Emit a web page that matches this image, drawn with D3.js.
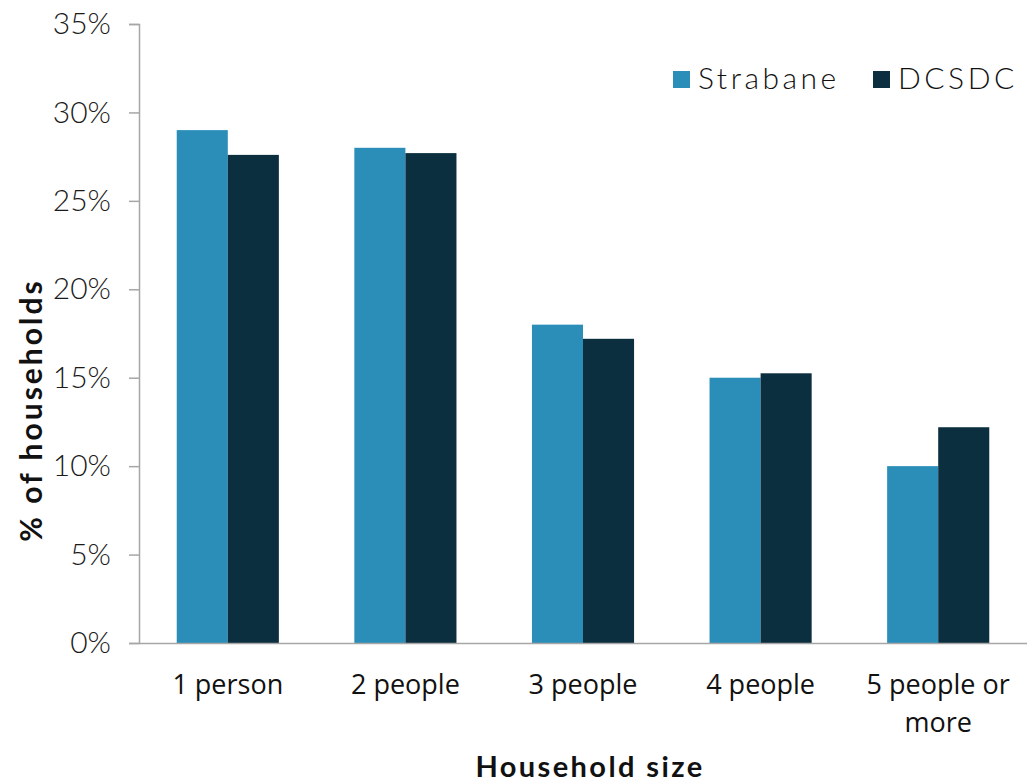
<!DOCTYPE html>
<html>
<head>
<meta charset="utf-8">
<script src="https://cdnjs.cloudflare.com/ajax/libs/d3/7.8.5/d3.min.js"></script>
<style>
    body { margin: 0; background: #fff; }
    svg { display: block; }
</style>
</head>
<body>
<div class="chart"></div>
<script>
var categories = ["1 person", "2 people", "3 people", "4 people", "5 people or more"];
var seriesNames = ["Strabane", "DCSDC"];
var strabane = [29.0, 28.0, 18.0, 15.0, 10.0];
var dcsdc = [27.6, 27.7, 17.2, 15.25, 12.2];
var yTicks = [0, 5, 10, 15, 20, 25, 30, 35];
var colors = ["#2a8eb8", "#0b2f3f"];

// ==================================

var w = 1027;
var h = 784;
var margin = { left: 139, right: 0, top: 24, bottom: 141 };
var geo = "'Lato', 'Open Sans', sans-serif";
var body = "'Open Sans', 'Noto Sans', sans-serif";

var svg = d3.select(".chart")
    .append("svg")
    .attr("width", w)
    .attr("height", h);

var x = d3.scaleBand()
    .domain(categories)
    .range([margin.left, w - margin.right])
    .paddingInner(0.425)
    .paddingOuter(0.2125);

var x1 = d3.scaleBand()
    .domain(seriesNames)
    .range([0, x.bandwidth()]);

var y = d3.scaleLinear()
    .domain([0, 35])
    .range([h - margin.bottom, margin.top]);

var rows = categories.map(function(c, i) {
    return { cat: c, values: [strabane[i], dcsdc[i]] };
});

// bars
var groups = svg.selectAll("g.grp")
    .data(rows)
    .enter()
    .append("g")
    .attr("class", "grp")
    .attr("transform", function(d) { return "translate(" + x(d.cat) + ",0)"; });

groups.selectAll("rect")
    .data(function(d) {
        return d.values.map(function(v, k) { return { name: seriesNames[k], value: v, k: k }; });
    })
    .enter()
    .append("rect")
    .attr("x", function(d) { return x1(d.name); })
    .attr("y", function(d) { return y(d.value); })
    .attr("width", x1.bandwidth())
    .attr("height", function(d) { return y(0) - y(d.value); })
    .attr("fill", function(d) { return colors[d.k]; });

// y axis
var yAxis = svg.append("g")
    .attr("transform", "translate(" + margin.left + ",0)")
    .call(d3.axisLeft(y).tickValues(yTicks).tickSize(10).tickPadding(18)
        .tickFormat(function(d) { return d + "%"; }));
yAxis.select(".domain").attr("stroke", "#a6a6a6").attr("stroke-width", 1.5);
yAxis.selectAll(".tick line").attr("stroke", "#a6a6a6").attr("stroke-width", 1.5);
yAxis.selectAll(".tick text")
    .attr("fill", "#1a1a1a")
    .style("font-family", geo)
    .style("font-weight", 300)
    .style("font-size", "30px");

// x axis
var xAxis = svg.append("g")
    .attr("transform", "translate(0," + y(0) + ")")
    .call(d3.axisBottom(x).tickSize(0).tickPadding(32));
xAxis.select(".domain").attr("stroke", "#a6a6a6").attr("stroke-width", 1.5);
xAxis.selectAll(".tick text")
    .attr("fill", "#111")
    .style("font-family", body)
    .style("font-size", "27px")
    .each(function(d) {
        if (d === "5 people or more") {
            var t = d3.select(this);
            t.text(null);
            t.append("tspan").attr("x", 0).attr("dy", "0.71em").text("5 people or");
            t.append("tspan").attr("x", 0).attr("dy", "1.4em").text("more");
            t.attr("dy", null);
        }
    });

// axis titles
svg.append("text")
    .attr("x", 590)
    .attr("y", 777)
    .attr("text-anchor", "middle")
    .style("font-family", geo)
    .style("font-weight", "bold")
    .style("font-size", "29px")
    .style("letter-spacing", "2.4px")
    .attr("fill", "#111")
    .text("Household size");

svg.append("text")
    .attr("transform", "translate(42,410) rotate(-90)")
    .attr("text-anchor", "middle")
    .style("font-family", geo)
    .style("font-weight", "bold")
    .style("font-size", "30px")
    .style("letter-spacing", "3px")
    .attr("fill", "#111")
    .text("% of households");

// legend
var legendX = [673, 873];
var legend = svg.selectAll("g.leg")
    .data(seriesNames)
    .enter()
    .append("g")
    .attr("class", "leg")
    .attr("transform", function(d, i) { return "translate(" + legendX[i] + ",71)"; });

legend.append("rect")
    .attr("width", 17)
    .attr("height", 17)
    .attr("fill", function(d, i) { return colors[i]; });

legend.append("text")
    .attr("x", 25)
    .attr("y", 18)
    .style("font-family", geo)
    .style("font-weight", 300)
    .style("font-size", "30px")
    .style("letter-spacing", "3.5px")
    .attr("fill", "#111")
    .text(function(d) { return d; });
</script>
</body>
</html>
